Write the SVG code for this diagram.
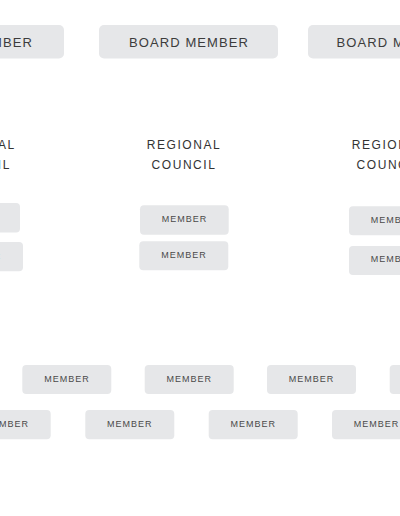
<svg xmlns="http://www.w3.org/2000/svg" width="400" height="516" viewBox="0 0 400 516">
<style>
.box{fill:#e6e7e9;}
.bt{font-family:"Liberation Sans",Arial,sans-serif;font-size:13px;letter-spacing:1.1px;fill:#3c3c3c;text-anchor:middle;}
.ct{font-family:"Liberation Sans",Arial,sans-serif;font-size:12px;letter-spacing:1.55px;fill:#333;text-anchor:middle;}
.mt{font-family:"Liberation Sans",Arial,sans-serif;font-size:9px;letter-spacing:1px;fill:#4a4a4a;text-anchor:middle;}
</style>
<rect width="400" height="516" fill="#ffffff"/>
<g id="connectors"></g>
<g id="board-1"><rect class="box" x="-115" y="25" width="179" height="33.5" rx="5"/><text class="bt" x="-27" y="47">BOARD MEMBER</text></g>
<g id="board-2"><rect class="box" x="99" y="25" width="179" height="33.5" rx="5"/><text class="bt" x="189" y="47">BOARD MEMBER</text></g>
<g id="board-3"><rect class="box" x="308" y="25" width="179" height="33.5" rx="5"/><text class="bt" x="396.5" y="47">BOARD MEMBER</text></g>

<g id="council-1"><text class="ct" x="-21.5" y="149.3">REGIONAL</text><text class="ct" x="-21.5" y="169.3">COUNCIL</text></g>
<g id="council-2"><text class="ct" x="184" y="149.3">REGIONAL</text><text class="ct" x="184" y="169.3">COUNCIL</text></g>
<g id="council-3"><text class="ct" x="389" y="149.3">REGIONAL</text><text class="ct" x="389" y="169.3">COUNCIL</text></g>

<g id="c1-member-1"><rect class="box" x="-69" y="203" width="89" height="29.5" rx="4"/><text class="mt" x="-24.5" y="219.5">MEMBER</text></g>
<g id="c1-member-2"><rect class="box" x="-66" y="242" width="89" height="29.3" rx="4"/><text class="mt" x="-21.5" y="258.5">MEMBER</text></g>
<g id="c2-member-1"><rect class="box" x="140" y="205.3" width="88.7" height="29.4" rx="4"/><text class="mt" x="184.6" y="221.7">MEMBER</text></g>
<g id="c2-member-2"><rect class="box" x="139.3" y="241.3" width="89" height="29" rx="4"/><text class="mt" x="184" y="257.5">MEMBER</text></g>
<g id="c3-member-1"><rect class="box" x="349" y="206.3" width="89" height="29" rx="4"/><text class="mt" x="393.5" y="222.5">MEMBER</text></g>
<g id="c3-member-2"><rect class="box" x="349" y="246" width="89" height="29" rx="4"/><text class="mt" x="393.5" y="262.2">MEMBER</text></g>

<g id="member-r1-1"><rect class="box" x="22.3" y="365" width="89" height="29" rx="4"/><text class="mt" x="67" y="381.5">MEMBER</text></g>
<g id="member-r1-2"><rect class="box" x="144.7" y="365" width="89" height="29" rx="4"/><text class="mt" x="189.2" y="381.5">MEMBER</text></g>
<g id="member-r1-3"><rect class="box" x="267" y="365" width="89" height="29" rx="4"/><text class="mt" x="311.5" y="381.5">MEMBER</text></g>
<g id="member-r1-4"><rect class="box" x="389.7" y="365" width="89" height="29" rx="4"/><text class="mt" x="434.2" y="381.5">MEMBER</text></g>

<g id="member-r2-1"><rect class="box" x="-38.3" y="410" width="89" height="29.3" rx="4"/><text class="mt" x="6.2" y="426.8">MEMBER</text></g>
<g id="member-r2-2"><rect class="box" x="85.3" y="410" width="89" height="29.3" rx="4"/><text class="mt" x="129.8" y="426.8">MEMBER</text></g>
<g id="member-r2-3"><rect class="box" x="208.7" y="410" width="89" height="29.3" rx="4"/><text class="mt" x="253.2" y="426.8">MEMBER</text></g>
<g id="member-r2-4"><rect class="box" x="332" y="410" width="89" height="29.3" rx="4"/><text class="mt" x="376.5" y="426.8">MEMBER</text></g>
</svg>
